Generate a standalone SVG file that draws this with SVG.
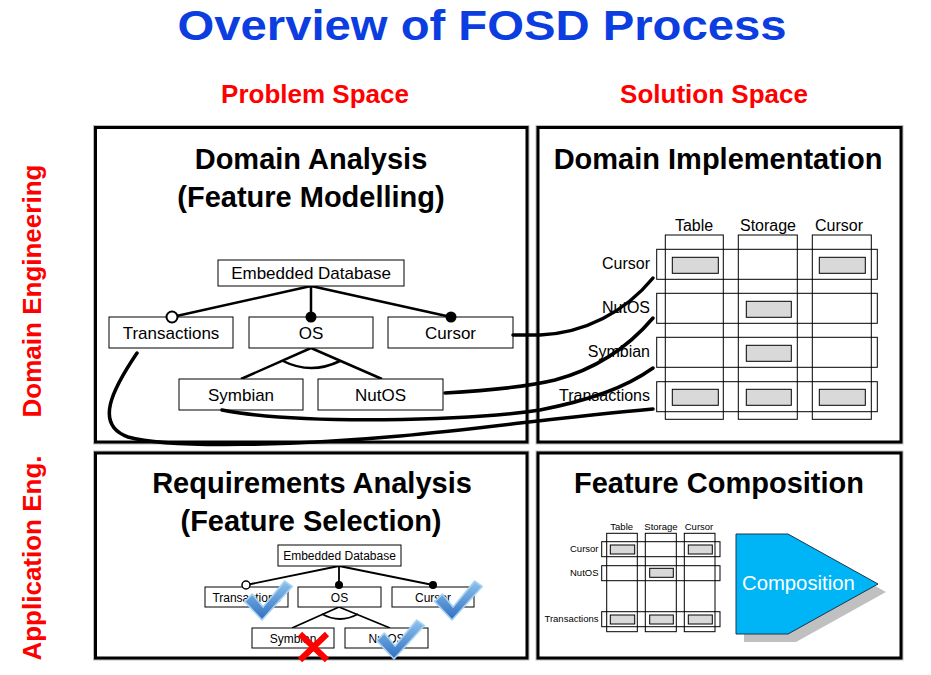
<svg xmlns="http://www.w3.org/2000/svg" width="931" height="675" viewBox="0 0 931 675">
  <defs>
    <style>
      text { font-family: "Liberation Sans", Arial, sans-serif; }
      .title { font-size: 43px; font-weight: bold; fill: #0b3de0; text-anchor: middle; }
      .axis { font-size: 26px; font-weight: bold; fill: #ff0000; text-anchor: middle; }
      .head { font-size: 29px; font-weight: bold; fill: #000; text-anchor: middle; }
      .panel-halo { fill: none; stroke: #bdbdbd; stroke-width: 5; }
      .panel { fill: #fff; stroke: #000; stroke-width: 3; }
      .feat { fill: #fff; stroke: #000; stroke-width: 1; }
      .ft { font-size: 17px; fill: #000; text-anchor: middle; }
      .fts { font-size: 12px; fill: #000; text-anchor: middle; }
      .edge { fill: none; stroke: #000; stroke-width: 2.5; }
      .edge-s { fill: none; stroke: #000; stroke-width: 1.8; }
      .cell { fill: none; stroke: #000; stroke-width: 1; }
      .frag { fill: #d9d9d9; stroke: #000; stroke-width: 1; }
      .gl { font-size: 16px; fill: #000; }
      .gls { font-size: 9.5px; fill: #000; }
      .link { fill: none; stroke: #000; stroke-width: 3.5; stroke-linecap: round; }
      .check { fill: url(#checkFill); stroke: #a8d2f4; stroke-width: 1.5; stroke-linejoin: round; }
      .cross { stroke: #ff0000; stroke-width: 6; stroke-linecap: butt; }
    </style>
    <linearGradient id="checkFill" x1="0" y1="0" x2="0" y2="1">
      <stop offset="0" stop-color="#8fc3ee"/>
      <stop offset="1" stop-color="#2f6fbf"/>
    </linearGradient>
    <path id="tick" d="M0,0 L-16,-17 L-9,-24 L1,-12 L21,-36 L28,-31 Z"/>
  </defs>

  <rect width="931" height="675" fill="#fff"/>

  <!-- headings -->
  <text class="title" x="482" y="39.5" textLength="609" lengthAdjust="spacingAndGlyphs">Overview of FOSD Process</text>
  <text class="axis" x="315" y="103">Problem Space</text>
  <text class="axis" x="714" y="103">Solution Space</text>
  <text class="axis" transform="translate(41,291) rotate(-90)">Domain Engineering</text>
  <text class="axis" transform="translate(41,558) rotate(-90)">Application Eng.</text>

  <!-- panels -->
  <g id="panel-domain-analysis">
    <rect class="panel-halo" x="95.5" y="127.5" width="431.5" height="314.5"/>
    <rect class="panel" x="95.5" y="127.5" width="431.5" height="314.5"/>
    <text class="head" x="311" y="169">Domain Analysis</text>
    <text class="head" x="311" y="207">(Feature Modelling)</text>
  </g>
  <g id="panel-domain-implementation">
    <rect class="panel-halo" x="538" y="127.5" width="363" height="314.5"/>
    <rect class="panel" x="538" y="127.5" width="363" height="314.5"/>
    <text class="head" x="718" y="169">Domain Implementation</text>
  </g>
  <g id="panel-requirements-analysis">
    <rect class="panel-halo" x="95.5" y="453" width="431.5" height="205"/>
    <rect class="panel" x="95.5" y="453" width="431.5" height="205"/>
    <text class="head" x="312" y="493">Requirements Analysis</text>
    <text class="head" x="311" y="531">(Feature Selection)</text>
  </g>
  <g id="panel-feature-composition">
    <rect class="panel-halo" x="538" y="453" width="363" height="205"/>
    <rect class="panel" x="538" y="453" width="363" height="205"/>
    <text class="head" x="719" y="493">Feature Composition</text>
  </g>

  <!-- feature model -->
  <g id="fm-edges">
    <path class="edge" d="M311,286 L172,317 M311,286 L311,317 M311,286 L451,317"/>
    <path class="edge" d="M311,348 L241,379 M311,348 L382,379"/>
    <path class="edge" d="M283,361 Q311,375 340,361"/>
  </g>
  <g id="fm-embedded-database">
    <rect class="feat" x="218" y="260" width="186" height="26"/>
    <text class="ft" x="311" y="279">Embedded Database</text>
  </g>
  <g id="fm-transactions">
    <rect class="feat" x="109" y="317" width="124" height="31"/>
    <text class="ft" x="171" y="338.5">Transactions</text>
  </g>
  <g id="fm-os">
    <rect class="feat" x="249" y="317" width="124" height="31"/>
    <text class="ft" x="311" y="338.5">OS</text>
  </g>
  <g id="fm-cursor">
    <rect class="feat" x="388" y="317" width="125" height="31"/>
    <text class="ft" x="450.5" y="338.5">Cursor</text>
  </g>
  <g id="fm-symbian">
    <rect class="feat" x="179" y="379" width="124" height="31"/>
    <text class="ft" x="241" y="400.5">Symbian</text>
  </g>
  <g id="fm-nutos">
    <rect class="feat" x="318" y="379" width="125" height="31"/>
    <text class="ft" x="380.5" y="400.5">NutOS</text>
  </g>
  <g id="fm-markers">
    <circle cx="172" cy="317" r="5.5" fill="#fff" stroke="#000" stroke-width="2"/>
    <circle cx="311" cy="317" r="5.5" fill="#000"/>
    <circle cx="451" cy="317" r="5.5" fill="#000"/>
  </g>

  <!-- implementation grid -->
  <g id="impl-grid">
    <text class="gl" x="694" y="231" text-anchor="middle">Table</text>
    <text class="gl" x="768" y="231" text-anchor="middle">Storage</text>
    <text class="gl" x="839" y="231" text-anchor="middle">Cursor</text>
    <rect class="cell" x="665.3" y="235" width="58" height="184.3"/>
    <rect class="cell" x="738.3" y="235" width="59" height="184.3"/>
    <rect class="cell" x="812.3" y="235" width="59" height="184.3"/>
    <rect class="cell" x="656.7" y="249.3" width="220.6" height="30"/>
    <rect class="cell" x="656.7" y="293.3" width="220.6" height="30"/>
    <rect class="cell" x="656.7" y="337.3" width="220.6" height="30"/>
    <rect class="cell" x="656.7" y="381.7" width="220.6" height="30"/>
    <rect class="frag" x="672.3" y="257.3" width="46" height="16"/>
    <rect class="frag" x="819.3" y="257.3" width="46" height="16"/>
    <rect class="frag" x="746.3" y="301.3" width="45" height="16"/>
    <rect class="frag" x="746.3" y="345.3" width="45" height="16"/>
    <rect class="frag" x="672.3" y="389.3" width="46" height="16"/>
    <rect class="frag" x="746.3" y="389.3" width="45" height="16"/>
    <rect class="frag" x="819.3" y="389.3" width="46" height="16"/>
    <text class="gl" x="650" y="268.5" text-anchor="end">Cursor</text>
    <text class="gl" x="650" y="312.5" text-anchor="end">NutOS</text>
    <text class="gl" x="650" y="357" text-anchor="end">Symbian</text>
    <text class="gl" x="650" y="401" text-anchor="end">Transactions</text>
  </g>

  <!-- feature-to-implementation links -->
  <g id="connectors">
    <path class="link" d="M513,335 L540,335 C585,333 625,312 653,278"/>
    <path class="link" d="M445,393 C500,390 530,386 555,380 C600,368 630,345 653,318"/>
    <path class="link" d="M222,410 C300,425 470,421 540,410 C590,400 625,388 653,368"/>
    <path class="link" d="M137,353 C112,390 94,425 128,437 C170,449 300,445 400,436 C480,429 560,417 653,409"/>
  </g>

  <!-- feature selection -->
  <g id="fs-edges">
    <path class="edge-s" d="M339,566 L246,585 M339,566 L339,585 M339,566 L433,585"/>
    <path class="edge-s" d="M339,607 L292,628 M339,607 L390,628"/>
    <path class="edge-s" d="M322,614 Q340,624 358,614"/>
  </g>
  <g id="fs-embedded-database">
    <rect class="feat" x="278" y="545" width="123" height="21"/>
    <text class="fts" x="339.5" y="560">Embedded Database</text>
  </g>
  <g id="fs-transactions">
    <rect class="feat" x="205" y="587" width="83" height="20"/>
    <text class="fts" x="246.5" y="601.5">Transactions</text>
  </g>
  <g id="fs-os">
    <rect class="feat" x="298" y="587" width="83" height="20"/>
    <text class="fts" x="339.5" y="601.5">OS</text>
  </g>
  <g id="fs-cursor">
    <rect class="feat" x="392" y="587" width="82" height="20"/>
    <text class="fts" x="433" y="601.5">Cursor</text>
  </g>
  <g id="fs-symbian">
    <rect class="feat" x="252" y="628" width="82" height="20"/>
    <text class="fts" x="293" y="642.5">Symbian</text>
  </g>
  <g id="fs-nutos">
    <rect class="feat" x="345" y="628" width="83" height="20"/>
    <text class="fts" x="386.5" y="642.5">NutOS</text>
  </g>
  <g id="fs-markers">
    <circle cx="246" cy="585" r="4" fill="#fff" stroke="#000" stroke-width="1.5"/>
    <circle cx="339" cy="585" r="4" fill="#000"/>
    <circle cx="433" cy="585" r="4" fill="#000"/>
  </g>
  <g id="fs-selection">
    <use href="#tick" class="check" transform="translate(262,620) scale(1.08)"/>
    <use href="#tick" class="check" transform="translate(452,620) scale(1.08)"/>
    <use href="#tick" class="check" transform="translate(394,659) scale(1.08)"/>
    <path class="cross" d="M300,634 L327,660 M327,634 L300,660"/>
  </g>

  <!-- composition input grid -->
  <g id="comp-grid">
    <text class="gls" x="621.7" y="530" text-anchor="middle">Table</text>
    <text class="gls" x="661" y="530" text-anchor="middle">Storage</text>
    <text class="gls" x="699" y="530" text-anchor="middle">Cursor</text>
    <rect class="cell" x="606.7" y="533.3" width="30.6" height="98.4"/>
    <rect class="cell" x="645.3" y="533.3" width="31" height="98.4"/>
    <rect class="cell" x="684.3" y="533.3" width="30.7" height="98.4"/>
    <rect class="cell" x="601.7" y="541.7" width="118.3" height="15"/>
    <rect class="cell" x="601.7" y="565.7" width="118.3" height="15"/>
    <rect class="cell" x="601.7" y="611.7" width="118.3" height="15"/>
    <rect class="frag" x="610.3" y="545" width="24.4" height="9"/>
    <rect class="frag" x="688.3" y="545" width="24" height="9"/>
    <rect class="frag" x="649.7" y="568.3" width="23.6" height="9"/>
    <rect class="frag" x="610.3" y="615" width="24.4" height="9"/>
    <rect class="frag" x="649.7" y="615" width="23.6" height="9"/>
    <rect class="frag" x="688.3" y="615" width="24" height="9"/>
    <text class="gls" x="598.5" y="552" text-anchor="end">Cursor</text>
    <text class="gls" x="598.5" y="575.5" text-anchor="end">NutOS</text>
    <text class="gls" x="598.5" y="622" text-anchor="end">Transactions</text>
  </g>

  <g id="composition">
    <polygon points="744,542 796,542 886,592 796,642 744,642" fill="#c0c0c0"/>
    <polygon points="736,534 788,534 878,584 788,634 736,634" fill="#00b5f5" stroke="#1c3450" stroke-width="1"/>
    <text x="742" y="590" font-size="20.3" fill="#fff">Composition</text>
  </g>
</svg>
